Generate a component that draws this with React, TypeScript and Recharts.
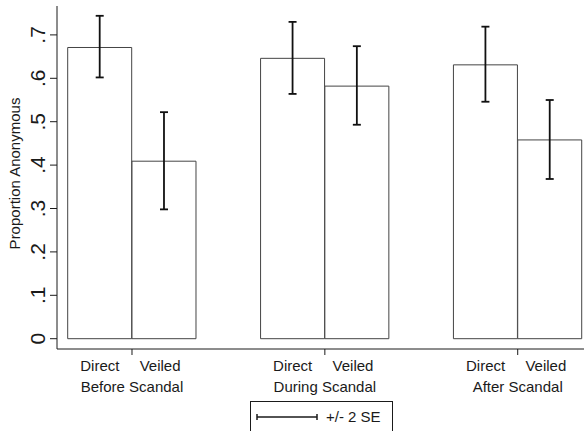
import { BarChart, Bar, ErrorBar, XAxis, YAxis, Legend } from 'recharts';

const groups = ['Before Scandal', 'During Scandal', 'After Scandal'];
const conditions = ['Direct', 'Veiled'];
const proportion = [0.671, 0.409, 0.646, 0.582, 0.631, 0.458];
const lower = [0.602, 0.298, 0.564, 0.493, 0.546, 0.368];
const upper = [0.744, 0.522, 0.73, 0.674, 0.719, 0.55];
const yTicks = [0, 0.1, 0.2, 0.3, 0.4, 0.5, 0.6, 0.7];

const INK = '#1a1a1a';
const FONT = '"Liberation Sans", Arial, sans-serif';

// bars for each group, with an empty slot between groups
type Row = { slot: string; label: string; group: string; value: number | null; err: number[] | null };
const rows: Row[] = [];
groups.forEach((g, gi) => {
  if (gi > 0) rows.push({ slot: `gap${gi}`, label: '', group: '', value: null, err: null });
  conditions.forEach((c, ci) => {
    const i = gi * 2 + ci;
    rows.push({
      slot: `${g}-${c}`,
      label: c,
      group: ci === 0 ? g : '',
      value: proportion[i],
      err: [proportion[i] - lower[i], upper[i] - proportion[i]],
    });
  });
});

const fmt = (v: number) => (v === 0 ? '0' : v.toFixed(1).replace(/^0/, ''));

function YTick(props: any) {
  const { x, y, payload } = props;
  const bx = x - 4.5;
  return (
    <text
      x={bx}
      y={y}
      transform={`rotate(-90 ${bx} ${y})`}
      textAnchor="middle"
      fontSize={21}
      fill={INK}
      fontFamily={FONT}
    >
      {fmt(payload.value)}
    </text>
  );
}

function XTick(props: any) {
  const { x, y, payload } = props;
  const row = rows[payload.index];
  if (!row || !row.label) return null;
  const half = payload.offset || 32;
  const axisY = y - 6;
  const dx = row.label === 'Veiled' ? -4 : 0;
  return (
    <g>
      <text x={x + dx} y={axisY + 22} textAnchor="middle" fontSize={15} fill={INK} fontFamily={FONT}>
        {row.label}
      </text>
      {row.group && (
        <>
          <line x1={x + half} x2={x + half} y1={axisY} y2={axisY + 6} stroke={INK} strokeWidth={1} />
          <text x={x + half} y={axisY + 43} textAnchor="middle" fontSize={15} fill={INK} fontFamily={FONT}>
            {row.group}
          </text>
        </>
      )}
    </g>
  );
}

function YTitle(props: any) {
  const { viewBox } = props;
  const x = viewBox.x + 19.5;
  const y = viewBox.y + viewBox.height / 2 - 4;
  return (
    <text x={x} y={y} transform={`rotate(-90 ${x} ${y})`} textAnchor="middle" fontSize={15} fill={INK} fontFamily={FONT}>
      Proportion Anonymous
    </text>
  );
}

function SeLegend() {
  return (
    <div style={{ border: `1px solid ${INK}`, height: 40, boxSizing: 'border-box', display: 'flex', alignItems: 'flex-start' }}>
      <svg width={72} height={30}>
        <line x1={6} x2={66} y1={15} y2={15} stroke={INK} strokeWidth={1.5} />
        <line x1={6} x2={6} y1={12} y2={18} stroke={INK} strokeWidth={1.5} />
        <line x1={66} x2={66} y1={12} y2={18} stroke={INK} strokeWidth={1.5} />
      </svg>
      <span style={{ fontSize: 15, fontFamily: FONT, color: INK, marginTop: 6, marginLeft: 3 }}>+/- 2 SE</span>
    </div>
  );
}

export default function App() {
  return (
    <div style={{ width: 584, height: 431, background: '#fff', position: 'relative' }}>
      <style>{'body{margin:0}'}</style>
      <BarChart
        width={584}
        height={431}
        data={rows}
        margin={{ top: 6, right: 0, bottom: 0, left: 0 }}
        barCategoryGap={0}
      >
        <XAxis
          dataKey="slot"
          height={82}
          interval={0}
          padding={{ left: 10.7, right: 2 }}
          tickLine={false}
          tickSize={6}
          tickMargin={0}
          axisLine={{ stroke: INK, strokeWidth: 1 }}
          tick={<XTick />}
        />
        <YAxis
          width={57}
          domain={[0, 0.7666]}
          ticks={yTicks}
          padding={{ bottom: 10.3 }}
          tickSize={7}
          tickMargin={0}
          axisLine={{ stroke: INK, strokeWidth: 1 }}
          tickLine={{ stroke: INK, strokeWidth: 1 }}
          tick={<YTick />}
          label={<YTitle />}
        />
        <Legend
          layout="horizontal"
          verticalAlign="middle"
          content={<SeLegend />}
          wrapperStyle={{ top: 401, left: 250, width: 143, height: 40 }}
        />
        <Bar dataKey="value" fill="#fff" stroke="#444" strokeWidth={1} isAnimationActive={false}>
          <ErrorBar dataKey="err" width={4} stroke="#111" strokeWidth={1.8} direction="y" />
        </Bar>
      </BarChart>
    </div>
  );
}
